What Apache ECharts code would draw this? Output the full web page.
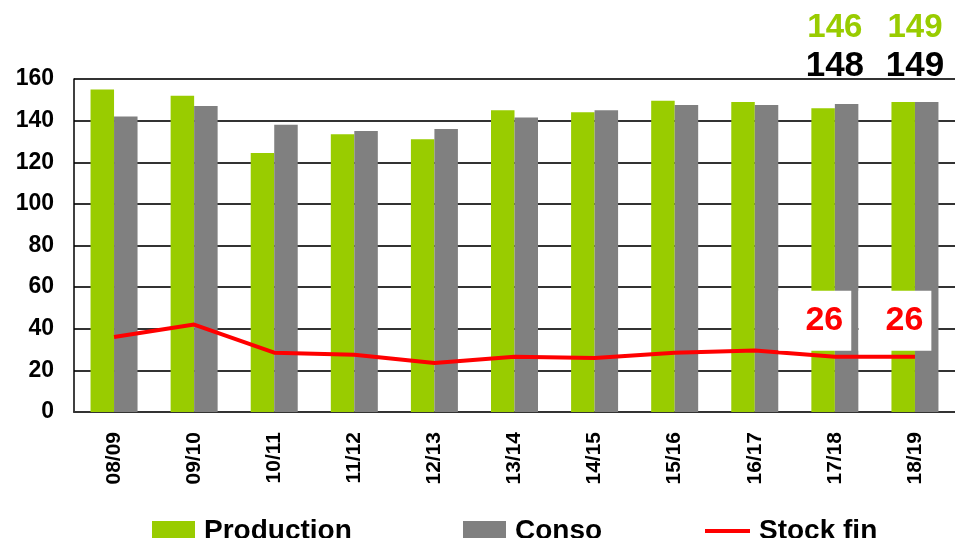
<!DOCTYPE html>
<html>
<head>
<meta charset="utf-8">
<script src="https://cdn.jsdelivr.net/npm/echarts@6/dist/echarts.min.js"></script>
<style>
html,body{margin:0;padding:0;background:#fff;}
#chart{width:955px;height:538px;}
</style>
</head>
<body>
<div id="chart"></div>
<script>
const categories = ['08/09','09/10','10/11','11/12','12/13','13/14','14/15','15/16','16/17','17/18','18/19'];
const production = [155, 152, 124.5, 133.5, 131, 145, 144, 149.5, 149, 146, 149];
const conso = [142, 147, 138, 135, 136, 141.5, 145, 147.5, 147.5, 148, 149];
const stockFin = [36, 42, 28.5, 27.5, 23.5, 26.5, 26, 28.5, 29.5, 26.5, 26.5];
const labelCats = ['17/18', '18/19'];
const prodLabel = [146, 149];
const consoLabel = [148, 149];
const stockLabel = [26, 26];
const yTicks = { min: 0, max: 160, interval: 20 };

const FONT = "'Liberation Sans', Arial, sans-serif";
const GREEN = '#99cc00', GREY = '#808080', RED = '#ff0000';

const stockData = stockFin.map((v, i) => {
  const k = labelCats.indexOf(categories[i]);
  if (k < 0) return v;
  return {
    value: v,
    label: {
      show: true,
      formatter: String(stockLabel[k]),
      position: 'inside',
      offset: [-20, -36],
      color: RED,
      fontSize: 34,
      fontWeight: 'bold',
      fontFamily: FONT,
      lineHeight: 34,
      backgroundColor: '#fff',
      padding: [13, 8, 13, 27]
    }
  };
});

const legendText = { fontSize: 28, fontWeight: 'bold', fontFamily: FONT, color: '#000', padding: [0, 0, 0, 4] };
const chart = echarts.init(document.getElementById('chart'));
chart.setOption({
  animation: false,
  backgroundColor: '#fff',
  grid: { left: 74, right: 0, top: 79, bottom: 126, containLabel: false },
  legend: [
    { data: [{ name: 'Production', icon: 'rect' }], left: 152, top: 517, itemWidth: 43, itemHeight: 20 },
    { data: [{ name: 'Conso', icon: 'rect' }], left: 463, top: 517, itemWidth: 43, itemHeight: 20 },
    { data: [{ name: 'Stock fin', icon: 'rect', itemStyle: { color: RED } }], left: 705, top: 517, itemWidth: 45, itemHeight: 4 }
  ].map(l => Object.assign(l, {
    itemGap: 0,
    padding: 0,
    textStyle: legendText,
    selectedMode: false
  })),
  xAxis: [
    {
      type: 'category',
      data: categories,
      axisLine: { show: true, lineStyle: { color: '#333', width: 2 } },
      axisTick: { show: false },
      axisLabel: {
        rotate: 90, interval: 0, margin: 20,
        fontSize: 21, fontWeight: 'bold', fontFamily: FONT, color: '#000'
      },
      splitLine: { show: false }
    },
    {
      type: 'category',
      data: categories,
      position: 'top',
      axisLine: { show: false },
      axisTick: { show: false },
      splitLine: { show: false },
      axisLabel: {
        interval: 0, margin: -6,
        formatter: (v) => {
          const k = labelCats.indexOf(v);
          return k < 0 ? '' : '{g|' + prodLabel[k] + '}\n{k|' + consoLabel[k] + '}';
        },
        rich: {
          g: { fontSize: 33, lineHeight: 38, fontWeight: 'bold', color: GREEN, fontFamily: FONT },
          k: { fontSize: 35, lineHeight: 38, fontWeight: 'bold', color: '#000', fontFamily: FONT }
        }
      }
    }
  ],
  yAxis: {
    type: 'value',
    min: yTicks.min, max: yTicks.max, interval: yTicks.interval,
    axisLine: { show: true, lineStyle: { color: '#000', width: 1.5 } },
    axisTick: { show: false },
    axisLabel: { margin: 20, fontSize: 23, fontWeight: 'bold', fontFamily: FONT, color: '#000' },
    splitLine: { show: true, lineStyle: { color: '#333', width: 2 } }
  },
  series: [
    {
      name: 'Production', type: 'bar', data: production,
      barWidth: 23.5, barGap: '0%',
      itemStyle: { color: GREEN }
    },
    {
      name: 'Conso', type: 'bar', data: conso,
      barWidth: 23.5, barGap: '0%',
      itemStyle: { color: GREY }
    },
    {
      name: 'Stock fin', type: 'line', data: stockData,
      symbol: 'circle', symbolSize: 0, showSymbol: true,
      itemStyle: { color: RED },
      lineStyle: { color: RED, width: 4 },
      z: 5
    }
  ]
});
</script>
</body>
</html>
